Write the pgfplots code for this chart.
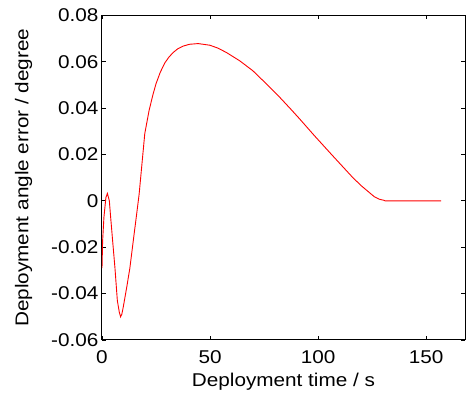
\documentclass[border=0pt]{standalone}
\usepackage{fontspec}
\setmainfont{Liberation Sans}[FakeStretch=1.12]
\usepackage{pgfplots}
\pgfplotsset{compat=1.18}
\begin{document}
\begin{tikzpicture}
\useasboundingbox (0,0) rectangle (466pt,396pt);
\begin{axis}[
  at={(102pt,56pt)}, anchor=south west,
  scale only axis, width=363pt, height=324.7pt,
  xmin=0, xmax=168, ymin=-0.06, ymax=0.08,
  xtick={0,50,100,150},
  ytick={-0.06,-0.04,-0.02,0,0.02,0.04,0.06,0.08},
  scaled y ticks=false,
  /pgf/number format/assume math mode=true,
  yticklabel style={/pgf/number format/fixed, /pgf/number format/precision=2},
  tick align=inside, major tick length=4pt,
  tick style={black, line width=0.8pt},
  axis line style={black, line width=1pt},
  tick label style={font=\fontsize{18.5pt}{22pt}\selectfont},
  label style={font=\fontsize{18.5pt}{22pt}\selectfont},
  xticklabel style={anchor=north, yshift=-7pt},
  xlabel={Deployment time / s},
  ylabel={Deployment angle error / degree},
  xlabel style={at={(axis description cs:0.5,0)}, anchor=center, yshift=-42pt},
  ylabel style={at={(axis description cs:0,0.5)}, anchor=center, yshift=78.5pt},
]
\addplot[red, line width=0.9pt, mark=none] coordinates {
(0,-0.029) (0.3,-0.017) (0.9,-0.007) (1.8,0.0014) (2.5,0.0032) (3.4,0.0)
(4.0,-0.007) (4.9,-0.017) (6.0,-0.029) (7.1,-0.043) (8.0,-0.048) (8.6,-0.050) (9.2,-0.0488) (9.8,-0.046)
(11.4,-0.0375) (12.9,-0.029) (14.5,-0.017) (16.0,-0.006) (17.2,0.003)
(18.6,0.017) (19.8,0.029) (21.8,0.039) (23.5,0.0455) (25.0,0.0505) (27.0,0.0555)
(29.1,0.0595) (31.0,0.0620) (33.0,0.0640) (35.0,0.0655) (37.5,0.0667) (40.5,0.0675) (44.5,0.0678) (49.9,0.0671)
(53.5,0.0659) (57.5,0.0640) (63.7,0.0604) (69.8,0.0561) (76,0.0505) (82.2,0.0447)
(87.5,0.0394) (91.4,0.0354) (98.3,0.0281) (106.7,0.0195) (116,0.0101)
(120,0.0065) (123.7,0.0036) (126,0.0018) (128.3,0.0007) (130.6,0.0002) (131,0) (157,0)
};
\end{axis}
\end{tikzpicture}
\end{document}
